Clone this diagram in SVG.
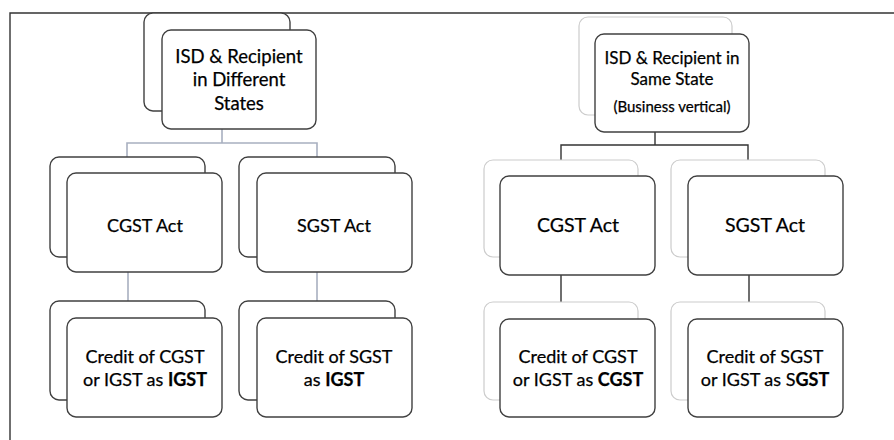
<svg xmlns="http://www.w3.org/2000/svg" width="894" height="440" viewBox="0 0 894 440">
<style>
.bg{fill:#ffffff;stroke:#404040;stroke-width:1.4}
.bgl{fill:#ffffff;stroke:#cccccc;stroke-width:1.2}
.fr{fill:#ffffff;stroke:#404040;stroke-width:1.4}
.t{font-family:Lato,"Liberation Sans",sans-serif;fill:#000;text-anchor:middle;stroke:#000;stroke-width:0.25}
.cb{stroke:#a8b0c0;stroke-width:1.6;fill:none}
.ck{stroke:#333;stroke-width:1.4;fill:none}
</style>
<rect width="894" height="440" fill="#fff"/>
<path d="M10,440 V13 H894" fill="none" stroke="#333" stroke-width="1.4"/>
<g id="connectors">
<path class="cb" d="M222,129 V143 M127,157 V143 H317 V157 M128,272 V301 M317,272 V301"/>
<path class="ck" d="M655,132 V145 M561,160 V145 H748 V160 M561,275 V302 M749,275 V302"/>
</g>
<g id="n1">
<rect class="bg" x="144" y="13" width="146" height="98" rx="9"/>
<rect class="fr" x="162" y="30" width="154" height="99" rx="9"/>
<text class="t" font-size="18.5" x="239" y="63">ISD &amp; Recipient</text>
<text class="t" font-size="18.5" x="239" y="86">in Different</text>
<text class="t" font-size="18.5" x="239" y="110">States</text>
</g>
<g id="n2">
<rect class="bg" x="50" y="157" width="155" height="100" rx="9"/>
<rect class="fr" x="67" y="173" width="155" height="99" rx="9"/>
<text class="t" font-size="18" x="145" y="232">CGST Act</text>
</g>
<g id="n3">
<rect class="bg" x="239" y="157" width="156" height="100" rx="9"/>
<rect class="fr" x="257" y="173" width="155" height="99" rx="9"/>
<text class="t" font-size="18" x="334" y="232">SGST Act</text>
</g>
<g id="n4">
<rect class="bg" x="50" y="301" width="155" height="99" rx="9"/>
<rect class="fr" x="67" y="318" width="155" height="99" rx="9"/>
<text class="t" font-size="18" x="145" y="363">Credit of CGST</text>
<text class="t" font-size="18" x="145" y="386">or IGST as <tspan font-weight="bold">IGST</tspan></text>
</g>
<g id="n5">
<rect class="bg" x="239" y="301" width="156" height="99" rx="9"/>
<rect class="fr" x="257" y="318" width="155" height="99" rx="9"/>
<text class="t" font-size="18" x="334" y="363">Credit of SGST</text>
<text class="t" font-size="18" x="334" y="386">as <tspan font-weight="bold">IGST</tspan></text>
</g>
<g id="n6">
<rect class="bgl" x="579" y="17" width="153" height="98" rx="9"/>
<rect class="fr" x="595" y="34" width="154" height="98" rx="9"/>
<text class="t" font-size="17" x="672" y="64">ISD &amp; Recipient in</text>
<text class="t" font-size="17" x="672" y="85">Same State</text>
<text class="t" font-size="15" x="672" y="112">(Business vertical)</text>
</g>
<g id="n7">
<rect class="bgl" x="484" y="160" width="154" height="97" rx="9"/>
<rect class="fr" x="500" y="176" width="155" height="99" rx="9"/>
<text class="t" font-size="19.5" x="578" y="232">CGST Act</text>
</g>
<g id="n8">
<rect class="bgl" x="671" y="160" width="154" height="97" rx="9"/>
<rect class="fr" x="688" y="176" width="155" height="99" rx="9"/>
<text class="t" font-size="19.5" x="765" y="232">SGST Act</text>
</g>
<g id="n9">
<rect class="bgl" x="484" y="302" width="154" height="98" rx="9"/>
<rect class="fr" x="500" y="319" width="155" height="98" rx="9"/>
<text class="t" font-size="18" x="578" y="363">Credit of CGST</text>
<text class="t" font-size="18" x="578" y="386">or IGST as <tspan font-weight="bold">CGST</tspan></text>
</g>
<g id="n10">
<rect class="bgl" x="671" y="302" width="154" height="98" rx="9"/>
<rect class="fr" x="688" y="319" width="155" height="98" rx="9"/>
<text class="t" font-size="18" x="765" y="363">Credit of SGST</text>
<text class="t" font-size="18" x="765" y="386">or IGST as S<tspan font-weight="bold">GST</tspan></text>
</g>
</svg>
